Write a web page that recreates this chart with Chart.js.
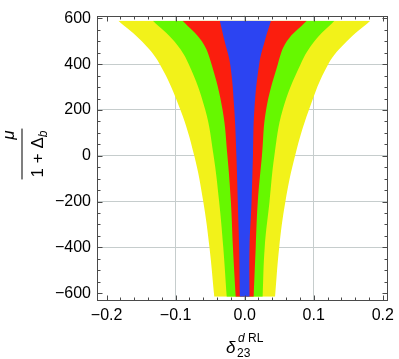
<!DOCTYPE html>
<html>
<head>
<meta charset="utf-8">
<script src="https://cdn.jsdelivr.net/npm/chart.js@4"></script>
<style>
  html, body { margin: 0; padding: 0; background: #fff; }
  #wrap { width: 399px; height: 359px; position: relative; }
</style>
</head>
<body>
<div id="wrap"><canvas id="chartCanvas"></canvas></div>
<script>
// mu / (1 + Delta_b) sample values, top to bottom
const muValues = [590, 500, 400, 200, 0, -200, -400, -615];

// band edges (delta_23^dRL) at each mu value
const yellowLeft  = [-0.183, -0.149, -0.123, -0.093, -0.073, -0.060, -0.051, -0.044];
const yellowRight = [ 0.182,  0.148,  0.121,  0.093,  0.073,  0.059,  0.050,  0.044];
const greenLeft   = [-0.133, -0.102, -0.081, -0.057, -0.045, -0.037, -0.031, -0.026];
const greenRight  = [ 0.130,  0.101,  0.081,  0.055,  0.043,  0.036,  0.029,  0.026];
const redLeft     = [-0.090, -0.062, -0.048, -0.032, -0.025, -0.020, -0.017, -0.013];
const redRight    = [ 0.090,  0.061,  0.048,  0.031,  0.025,  0.019,  0.016,  0.013];
const blueLeft    = [-0.036, -0.029, -0.021, -0.015, -0.012, -0.010, -0.008, -0.007];
const blueRight   = [ 0.038,  0.029,  0.021,  0.014,  0.012,  0.010,  0.007,  0.007];

const xTicks = [-0.2, -0.1, 0.0, 0.1, 0.2];
const yTicks = [-600, -400, -200, 0, 200, 400, 600];

const FONT = '"Liberation Sans", Arial, sans-serif';

function minus(s) {
  return s.replace('-', '\u2212');
}

// one band = left edge + right edge filled between them
function band(left, right, color) {
  const common = {
    borderWidth: 0,
    borderColor: 'transparent',
    pointRadius: 0,
    pointHitRadius: 0,
    tension: 0.4
  };
  return [
    { ...common, data: muValues.map((m, i) => ({ x: left[i], y: m })), fill: false },
    { ...common, data: muValues.map((m, i) => ({ x: right[i], y: m })), fill: '-1', backgroundColor: color }
  ];
}

// frame, inward ticks and the two axis titles
const framePlugin = {
  id: 'frame',
  afterDatasetsDraw(chart) {
    const { ctx, chartArea: a, scales } = chart;
    const L = Math.round(a.left) + 0.5, R = Math.round(a.right) - 0.5;
    const T = Math.round(a.top) + 0.5, B = Math.round(a.bottom) - 0.5;
    ctx.save();
    ctx.strokeStyle = '#4a4a4a';
    ctx.lineWidth = 1;
    ctx.strokeRect(L, T, R - L, B - T);
    ctx.beginPath();
    for (let v = -600; v <= 600; v += 50) {
      const len = v % 200 === 0 ? 5 : 3;
      const y = Math.round(scales.y.getPixelForValue(v)) + 0.5;
      ctx.moveTo(L, y); ctx.lineTo(L + len, y);
      ctx.moveTo(R, y); ctx.lineTo(R - len, y);
    }
    for (let i = -10; i <= 10; i++) {
      const len = i % 5 === 0 ? 5 : 3;
      const x = Math.round(scales.x.getPixelForValue(i * 0.02)) + 0.5;
      ctx.moveTo(x, B); ctx.lineTo(x, B - len);
      ctx.moveTo(x, T); ctx.lineTo(x, T + len);
    }
    ctx.stroke();
    ctx.restore();
  },
  afterDraw(chart) {
    const ctx = chart.ctx;
    ctx.save();
    ctx.fillStyle = '#000';

    // y title: mu / (1 + Delta_b), rotated
    ctx.translate(22, 154);
    ctx.rotate(-Math.PI / 2);
    ctx.font = '17px ' + FONT;
    const w1 = ctx.measureText('1 + \u0394').width;
    ctx.font = 'italic 12px ' + FONT;
    const wb = ctx.measureText('b').width;
    const total = w1 + wb;
    ctx.fillRect(-total / 2 - 2, -0.5, total + 4, 1);
    ctx.textAlign = 'left';
    ctx.textBaseline = 'alphabetic';
    ctx.font = '17px ' + FONT;
    ctx.fillText('1 + \u0394', -total / 2, 21);
    ctx.font = 'italic 12px ' + FONT;
    ctx.fillText('b', -total / 2 + w1, 25);
    ctx.font = 'italic 17px ' + FONT;
    ctx.textAlign = 'center';
    ctx.fillText('\u03bc', 19, -8);
    ctx.setTransform(1, 0, 0, 1, 0, 0);

    // x title: delta_23^{d RL}
    ctx.textAlign = 'left';
    ctx.font = 'italic 17px ' + FONT;
    ctx.fillText('\u03b4', 226, 353);
    ctx.font = 'italic 12px ' + FONT;
    ctx.fillText('d', 238, 342);
    const wd = ctx.measureText('d ').width;
    ctx.font = '12px ' + FONT;
    ctx.fillText('RL', 238 + wd, 342);
    ctx.fillText('23', 237, 357);
    ctx.restore();
  }
};

const datasets = [
  ...band(blueLeft, blueRight, '#2c44f2'),
  ...band(redLeft, redRight, '#fb1e0e'),
  ...band(greenLeft, greenRight, '#66f800'),
  ...band(yellowLeft, yellowRight, '#f2f21a')
];

const gridColor = (skip) => (c) => skip.includes(c.tick.value) ? 'rgba(0,0,0,0)' : '#c6cdcd';

new Chart(document.getElementById('chartCanvas'), {
  type: 'line',
  data: { datasets },
  plugins: [framePlugin],
  options: {
    indexAxis: 'y',
    responsive: true,
    maintainAspectRatio: false,
    animation: false,
    events: [],
    layout: { padding: { top: 7, right: 7, left: 0, bottom: 0 } },
    plugins: { legend: { display: false }, tooltip: { enabled: false } },
    scales: {
      x: {
        type: 'linear',
        min: -0.2139,
        max: 0.2071,
        afterBuildTicks: (s) => { s.ticks = xTicks.map(v => ({ value: v })); },
        afterFit: (s) => { s.height = 58; },
        grid: { drawTicks: false, color: gridColor([-0.2, 0.2]), lineWidth: 1 },
        border: { display: false },
        ticks: {
          padding: 5,
          color: '#000',
          font: { family: FONT, size: 16 },
          maxRotation: 0,
          callback: (v) => minus(Number(v).toFixed(1))
        }
      },
      y: {
        type: 'linear',
        min: -634,
        max: 612,
        afterBuildTicks: (s) => { s.ticks = yTicks.map(v => ({ value: v })); },
        afterFit: (s) => { s.width = 97; },
        grid: { drawTicks: false, color: gridColor([-600, 600]), lineWidth: 1 },
        border: { display: false },
        ticks: {
          padding: 6,
          color: '#000',
          font: { family: FONT, size: 16 },
          callback: (v) => minus(String(v))
        }
      }
    }
  }
});
</script>
</body>
</html>
